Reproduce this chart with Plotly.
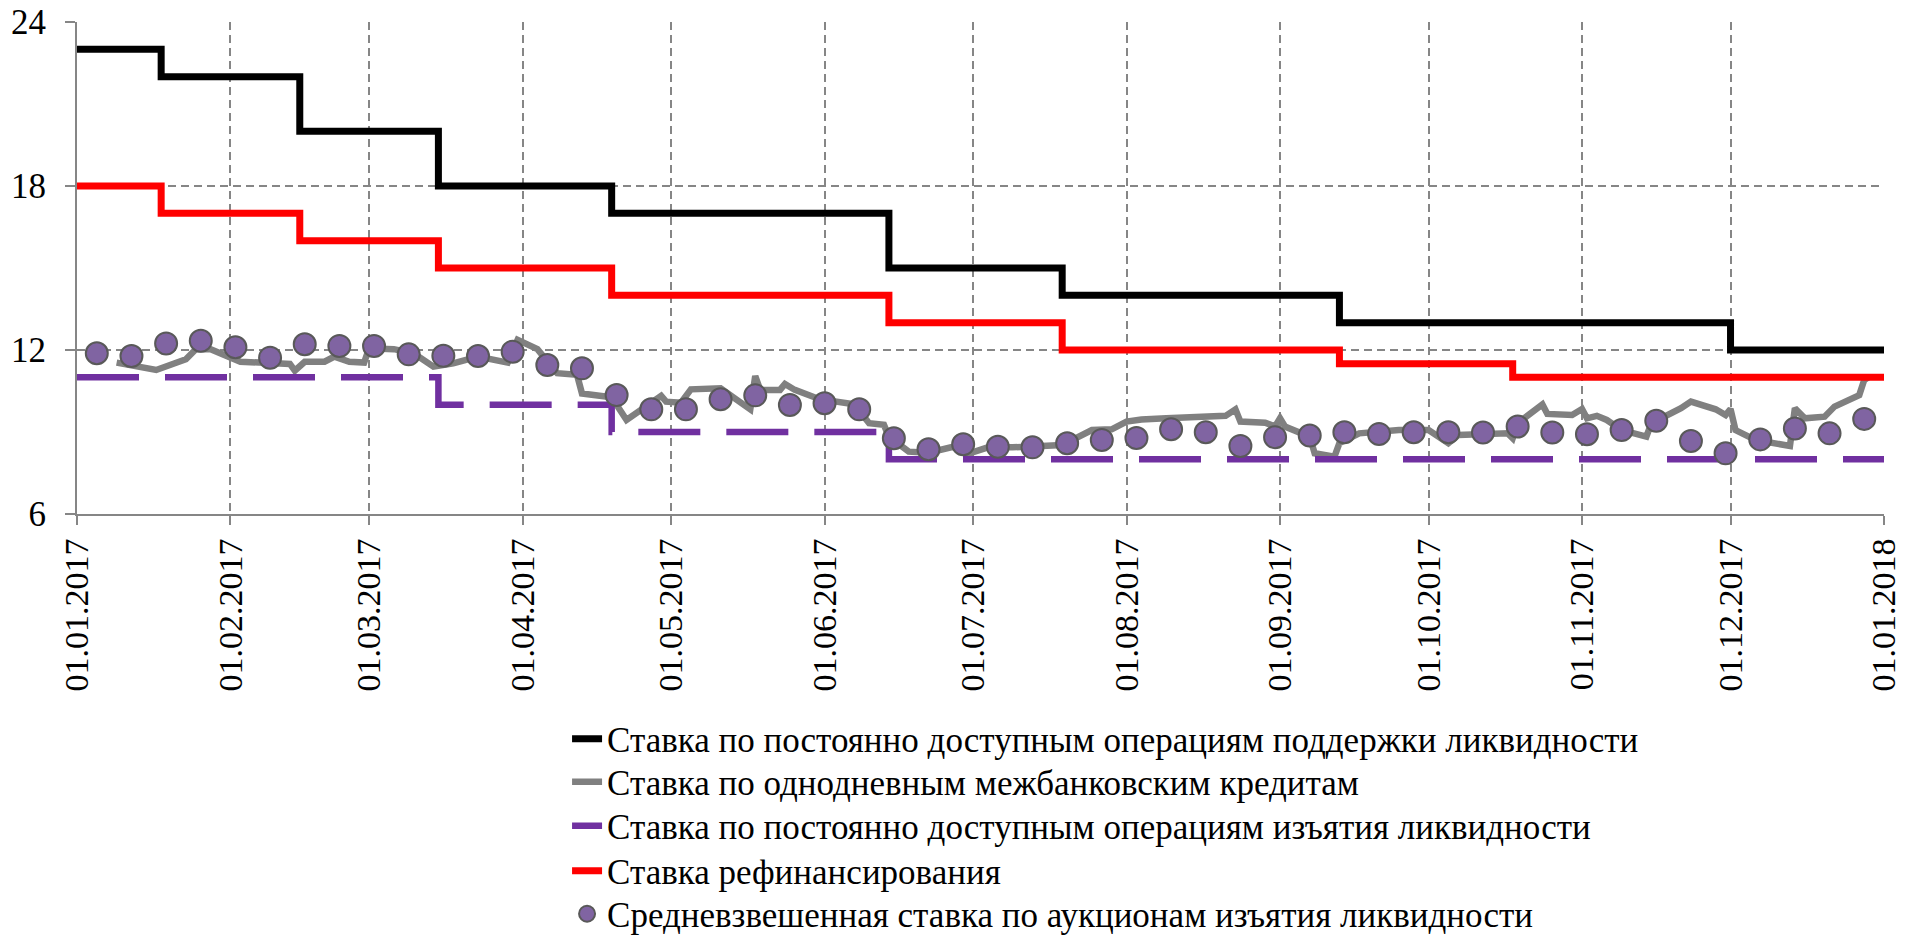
import plotly.graph_objects as go

# ---- Data ----
support_dates = ["2017-01-01", "2017-01-18", "2017-02-15", "2017-03-15", "2017-04-19",
                 "2017-06-14", "2017-07-19", "2017-09-13", "2017-12-01", "2018-01-01"]
support_vals = [23, 22, 20, 18, 17, 15, 14, 13, 12, 12]

refin_dates = ["2017-01-01", "2017-01-18", "2017-02-15", "2017-03-15", "2017-04-19",
               "2017-06-14", "2017-07-19", "2017-09-13", "2017-10-18", "2018-01-01"]
refin_vals = [18, 17, 16, 15, 14, 13, 12, 11.5, 11, 11]

deposit_dates = ["2017-01-01", "2017-03-15", "2017-04-19", "2017-06-14", "2018-01-01"]
deposit_vals = [11, 10, 9, 8, 8]

interbank_dates = [
    "2017-01-09", "2017-01-17", "2017-01-23", "2017-01-25", "2017-01-28", "2017-01-31",
    "2017-02-03", "2017-02-13", "2017-02-14", "2017-02-16", "2017-02-20", "2017-02-22",
    "2017-02-25", "2017-02-28", "2017-03-01", "2017-03-06", "2017-03-10", "2017-03-14",
    "2017-03-18", "2017-03-23", "2017-03-26", "2017-03-29", "2017-03-31", "2017-04-04",
    "2017-04-08", "2017-04-12", "2017-04-13", "2017-04-19", "2017-04-22", "2017-04-29",
    "2017-04-30", "2017-05-03", "2017-05-05", "2017-05-11", "2017-05-17", "2017-05-18",
    "2017-05-19", "2017-05-23", "2017-05-24", "2017-05-26", "2017-05-31", "2017-06-07",
    "2017-06-10", "2017-06-13", "2017-06-14", "2017-06-18", "2017-06-22", "2017-06-27",
    "2017-06-30", "2017-07-04", "2017-07-09", "2017-07-19", "2017-07-25", "2017-07-29",
    "2017-08-01", "2017-08-04", "2017-08-09", "2017-08-17", "2017-08-21", "2017-08-23",
    "2017-08-24", "2017-08-29", "2017-08-31", "2017-09-01", "2017-09-02", "2017-09-07",
    "2017-09-08", "2017-09-12", "2017-09-13", "2017-09-17", "2017-09-25", "2017-10-01",
    "2017-10-05", "2017-10-07", "2017-10-17", "2017-10-18", "2017-10-19", "2017-10-24",
    "2017-10-25", "2017-10-30", "2017-11-01", "2017-11-02", "2017-11-04", "2017-11-06",
    "2017-11-09", "2017-11-14", "2017-11-15", "2017-11-21", "2017-11-23", "2017-11-28",
    "2017-11-30", "2017-12-01", "2017-12-02", "2017-12-06", "2017-12-13", "2017-12-14",
    "2017-12-16", "2017-12-20", "2017-12-22", "2017-12-27", "2017-12-28", "2017-12-29",
]
interbank_vals = [
    11.54, 11.27, 11.66, 12.03, 12.03, 11.82,
    11.57, 11.49, 11.24, 11.57, 11.57, 11.76,
    11.57, 11.54, 12.06, 12.03, 11.88, 11.39,
    11.51, 11.76, 11.63, 11.54, 12.37, 12.03,
    11.15, 11.09, 10.41, 10.27, 9.44, 10.32,
    10.11, 10.07, 10.56, 10.60, 9.83, 11.05,
    10.54, 10.54, 10.76, 10.54, 10.20, 10.01,
    9.32, 9.26, 8.83, 8.28, 8.24, 8.46,
    8.20, 8.44, 8.44, 8.52, 9.07, 9.10,
    9.38, 9.46, 9.50, 9.56, 9.59, 9.83,
    9.38, 9.34, 9.20, 9.50, 9.20, 8.83,
    8.22, 8.10, 8.59, 8.95, 9.07, 9.07,
    8.59, 8.89, 8.95, 8.77, 9.32, 10.01,
    9.66, 9.62, 9.84, 9.50, 9.59, 9.44,
    9.07, 8.83, 9.32, 9.87, 10.11, 9.83,
    9.62, 9.84, 9.07, 8.71, 8.49, 9.87,
    9.50, 9.56, 9.93, 10.35, 10.90, 11.02,
]

auction_dates = [
    "2017-01-05", "2017-01-12", "2017-01-19", "2017-01-26", "2017-02-02", "2017-02-09",
    "2017-02-16", "2017-02-23", "2017-03-02", "2017-03-09", "2017-03-16", "2017-03-23",
    "2017-03-30", "2017-04-06", "2017-04-13", "2017-04-20", "2017-04-27", "2017-05-04",
    "2017-05-11", "2017-05-18", "2017-05-25", "2017-06-01", "2017-06-08", "2017-06-15",
    "2017-06-22", "2017-06-29", "2017-07-06", "2017-07-13", "2017-07-20", "2017-07-27",
    "2017-08-03", "2017-08-10", "2017-08-17", "2017-08-24", "2017-08-31", "2017-09-07",
    "2017-09-14", "2017-09-21", "2017-09-28", "2017-10-05", "2017-10-12", "2017-10-19",
    "2017-10-26", "2017-11-02", "2017-11-09", "2017-11-16", "2017-11-23", "2017-11-30",
    "2017-12-07", "2017-12-14", "2017-12-21", "2017-12-28",
]
auction_vals = [
    11.88, 11.78, 12.24, 12.34, 12.10, 11.72,
    12.21, 12.15, 12.15, 11.84, 11.79, 11.78,
    11.94, 11.45, 11.33, 10.35, 9.83, 9.83,
    10.20, 10.34, 9.99, 10.05, 9.83, 8.77,
    8.37, 8.55, 8.46, 8.44, 8.59, 8.71,
    8.78, 9.10, 8.99, 8.49, 8.81, 8.87,
    8.99, 8.93, 8.99, 8.99, 8.98, 9.20,
    8.98, 8.92, 9.07, 9.41, 8.67, 8.22,
    8.73, 9.13, 8.95, 9.48,
]

names = [
    "Ставка по постоянно доступным операциям поддержки ликвидности",
    "Ставка по однодневным межбанковским кредитам",
    "Ставка по постоянно доступным операциям изъятия ликвидности",
    "Ставка рефинансирования",
    "Средневзвешенная ставка по аукционам изъятия ликвидности",
]

y_ticks = [6, 12, 18, 24]

FONT = "Liberation Serif, Times New Roman, Tinos, DejaVu Serif, serif"

fig = go.Figure()
fig.add_trace(go.Scatter(x=support_dates, y=support_vals, mode="lines", name=names[0],
                         legend="legend",
                         line=dict(color="#000000", width=7, shape="hv")))
fig.add_trace(go.Scatter(x=interbank_dates, y=interbank_vals, mode="lines", name=names[1],
                         legend="legend2",
                         line=dict(color="#808080", width=6.5)))
fig.add_trace(go.Scatter(x=deposit_dates, y=deposit_vals, mode="lines", name=names[2],
                         legend="legend3",
                         line=dict(color="#7030A0", width=6.5, shape="hv", dash="62px,26px")))
fig.add_trace(go.Scatter(x=refin_dates, y=refin_vals, mode="lines", name=names[3],
                         legend="legend4",
                         line=dict(color="#FF0000", width=7, shape="hv")))
fig.add_trace(go.Scatter(x=auction_dates, y=auction_vals, mode="markers", name=names[4],
                         legend="legend5",
                         marker=dict(color="#8064A2", size=22,
                                     line=dict(color="#595959", width=2))))

legend_common = dict(x=0.2712, xanchor="left", yanchor="middle",
                     font=dict(family=FONT, size=35, color="black"),
                     bgcolor="rgba(0,0,0,0)", borderwidth=0)
# legend row centres in paper units (plot area spans 0..1)
legend_rows = [-0.4573, -0.5447, -0.6341, -0.7256, -0.8130]

fig.update_layout(
    template="none",
    width=1919, height=935,
    margin=dict(l=77, r=35, t=22, b=421, autoexpand=False),
    paper_bgcolor="white", plot_bgcolor="white",
    font=dict(family=FONT, size=34, color="black"),
    showlegend=True,
    legend=dict(y=legend_rows[0], **legend_common),
    legend2=dict(y=legend_rows[1], **legend_common),
    legend3=dict(y=legend_rows[2], **legend_common),
    legend4=dict(y=legend_rows[3], **legend_common),
    legend5=dict(y=legend_rows[4], **legend_common),
)
fig.update_xaxes(
    type="date", range=["2017-01-01", "2018-01-01"], automargin=False,
    tick0="2017-01-01", dtick="M1", tickformat="%d.%m.%Y", tickangle=-90,
    showgrid=True, gridcolor="#868686", gridwidth=1.5, griddash="8px,5px",
    showline=True, linecolor="#868686", linewidth=2,
    ticks="outside", ticklen=9, tickcolor="#868686", tickwidth=1.5,
    tickfont=dict(family=FONT, size=34, color="black"),
    ticklabeloverflow="allow",
    zeroline=False,
)
fig.update_yaxes(
    range=[6, 24], tickvals=y_ticks, ticktext=[str(v) for v in y_ticks], automargin=False,
    showgrid=True, gridcolor="#868686", gridwidth=1.5, griddash="8px,5px",
    showline=True, linecolor="#868686", linewidth=2,
    ticks="outside", ticklen=10, tickcolor="#868686", tickwidth=1.5,
    tickfont=dict(family=FONT, size=35, color="black"),
    ticklabelstandoff=12, ticklabeloverflow="allow",
    zeroline=False,
)

fig.write_html(
    "out.html",
    config={"displayModeBar": False},
    post_script="document.body.style.margin='0';document.body.style.padding='0';",
)
